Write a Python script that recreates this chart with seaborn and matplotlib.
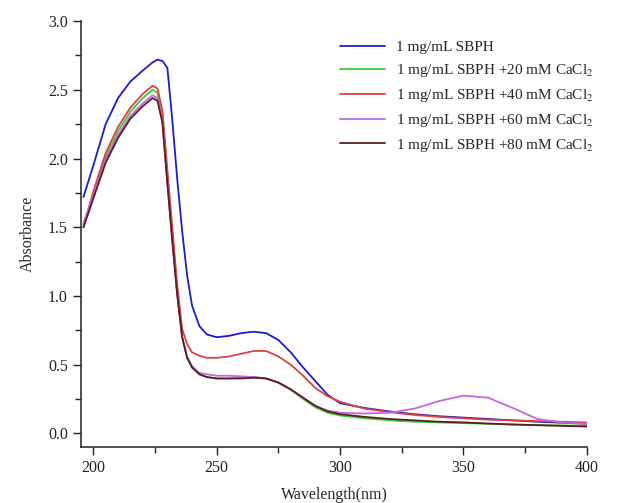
import numpy as np
import pandas as pd
import matplotlib
matplotlib.use("Agg")
import matplotlib.pyplot as plt
from matplotlib.ticker import MultipleLocator
import seaborn as sns

wavelength = [196, 200, 205, 210, 215, 220, 224, 226, 228, 230, 232, 234, 236, 238, 240, 243, 246,
              250, 255, 260, 265, 270, 275, 280, 285, 290, 295, 300, 310, 320, 330, 340, 350,
              360, 370, 380, 390, 400]

abs_0mM = [1.72, 1.95, 2.25, 2.44, 2.56, 2.64, 2.70, 2.72, 2.71, 2.66, 2.28, 1.85, 1.47, 1.15, 0.93, 0.78, 0.72,
           0.70, 0.71, 0.73, 0.74, 0.73, 0.68, 0.59, 0.48, 0.38, 0.28, 0.22, 0.185, 0.16, 0.14, 0.125, 0.115,
           0.105, 0.095, 0.085, 0.078, 0.07]
abs_20mM = [1.52, 1.74, 2.01, 2.20, 2.34, 2.44, 2.50, 2.48, 2.30, 1.85, 1.42, 1.02, 0.70, 0.55, 0.48, 0.43, 0.41,
            0.40, 0.40, 0.405, 0.41, 0.40, 0.37, 0.32, 0.25, 0.19, 0.15, 0.13, 0.11, 0.095, 0.085, 0.08, 0.075,
            0.07, 0.065, 0.06, 0.058, 0.055]
abs_40mM = [1.50, 1.76, 2.04, 2.23, 2.37, 2.47, 2.53, 2.51, 2.35, 1.92, 1.50, 1.08, 0.76, 0.65, 0.59, 0.565, 0.55,
            0.55, 0.56, 0.58, 0.60, 0.60, 0.56, 0.50, 0.42, 0.33, 0.27, 0.23, 0.18, 0.155, 0.135, 0.12, 0.11,
            0.10, 0.095, 0.09, 0.085, 0.08]
abs_60mM = [1.53, 1.73, 1.99, 2.17, 2.31, 2.40, 2.46, 2.44, 2.27, 1.83, 1.40, 1.01, 0.70, 0.56, 0.49, 0.44, 0.43,
            0.42, 0.42, 0.415, 0.41, 0.40, 0.37, 0.32, 0.26, 0.20, 0.165, 0.15, 0.145, 0.15, 0.18, 0.235, 0.275,
            0.26, 0.185, 0.105, 0.08, 0.07]
abs_80mM = [1.50, 1.71, 1.97, 2.15, 2.29, 2.38, 2.44, 2.42, 2.26, 1.82, 1.40, 1.01, 0.70, 0.55, 0.48, 0.43, 0.41,
            0.40, 0.40, 0.40, 0.405, 0.40, 0.37, 0.32, 0.26, 0.20, 0.16, 0.14, 0.12, 0.105, 0.095, 0.085, 0.08,
            0.072, 0.065, 0.06, 0.055, 0.05]

labels = ["1 mg/mL SBPH",
          "1 mg/mL SBPH +20 mM CaCl$_2$",
          "1 mg/mL SBPH +40 mM CaCl$_2$",
          "1 mg/mL SBPH +60 mM CaCl$_2$",
          "1 mg/mL SBPH +80 mM CaCl$_2$"]
colors = ["#1c1cc8", "#3ccc3c", "#e04040", "#c466e6", "#5a1e1e"]
series = [abs_0mM, abs_20mM, abs_40mM, abs_60mM, abs_80mM]

df = pd.concat([pd.DataFrame({"Wavelength": wavelength, "Absorbance": s, "Sample": lab})
                for s, lab in zip(series, labels)], ignore_index=True)

sns.set_style("ticks")
plt.rcParams["font.family"] = ["Liberation Serif", "DejaVu Serif"]
plt.rcParams["mathtext.fontset"] = "stix"

fig = plt.figure(figsize=(6.25, 5.03), dpi=100)
ax = fig.add_axes([0.1296, 0.111, 0.8094, 0.847])

sns.lineplot(data=df, x="Wavelength", y="Absorbance", hue="Sample", hue_order=labels,
             palette=colors, linewidth=1.3, ax=ax, legend=False)

ax.set_xlim(195, 400)
ax.set_ylim(-0.1, 3.0)
ax.xaxis.set_major_locator(MultipleLocator(50))
ax.xaxis.set_minor_locator(MultipleLocator(25))
ax.yaxis.set_major_locator(MultipleLocator(0.5))
ax.yaxis.set_minor_locator(MultipleLocator(0.25))
ax.yaxis.set_major_formatter(matplotlib.ticker.FormatStrFormatter("%.1f"))
ax.tick_params(which="major", direction="out", length=6, width=1, labelsize=11.5, colors="#222222")
ax.tick_params(which="minor", direction="out", length=4, width=1)
for side in ["top", "right"]:
    ax.spines[side].set_visible(False)
for side in ["left", "bottom"]:
    ax.spines[side].set_linewidth(1.1)
    ax.spines[side].set_color("#222222")

ax.set_xlabel("Wavelength(nm)", fontsize=11.5, labelpad=8)
ax.set_ylabel("Absorbance", fontsize=11.5, labelpad=9)

handles = [plt.Line2D([], [], color=c, lw=1.3) for c in colors]
ax.legend(handles, labels, loc="upper left", bbox_to_anchor=(0.49, 0.98), frameon=False,
          fontsize=11, handlelength=3.0, handletextpad=0.7, labelspacing=0.52, borderaxespad=0.3)

fig.savefig("out.png", dpi=100)
